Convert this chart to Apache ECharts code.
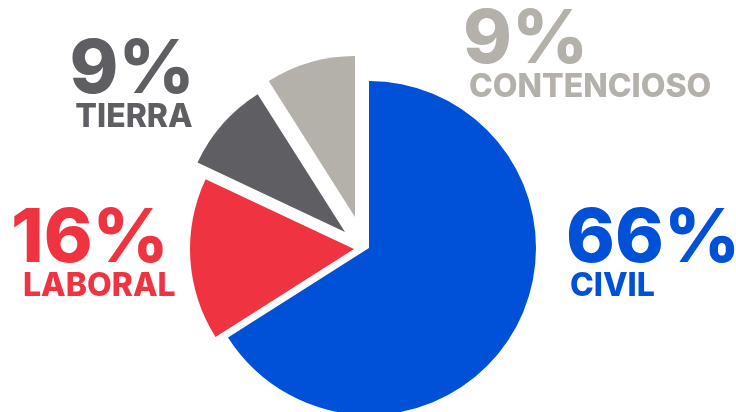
<!DOCTYPE html>
<html><head><meta charset="utf-8">
<script src="https://cdn.jsdelivr.net/npm/echarts@6/dist/echarts.min.js"></script>
<style>html,body{margin:0;padding:0;background:#fff}#c{width:736px;height:412px}</style>
</head><body><div id="c"></div>
<script>
// ---- data ----
const categories = ['CIVIL', 'LABORAL', 'TIERRA', 'CONTENCIOSO'];
const values = [66, 16, 9, 9];

// ---- styling / layout (not data) ----
const colors = ['#0050d8', '#ef3341', '#5f5e63', '#b4b0aa'];
const sliceCenters = [[369, 248], [354, 249], [345, 232], [355, 217]]; // exploded slice apexes
const sliceRadii = [167, 164, 163, 161];
const labelAnchors = [
  { x: 566, y: 210, align: 'left', indent: 4 },
  { x: 11, y: 210, align: 'left', indent: 12 },
  { x: 132, y: 41, align: 'center', indent: 4 },
  { x: 463, y: 11, align: 'left', indent: 6 }
];
const FONT = 'Inter';

const chart = echarts.init(document.getElementById('c'), null, { renderer: 'canvas' });

const series = categories.map((_, k) => ({
  type: 'pie',
  center: sliceCenters[k],
  radius: sliceRadii[k],
  startAngle: 90,
  clockwise: true,
  silent: true,
  animation: false,
  avoidLabelOverlap: false,
  labelLine: { show: false },
  emphasis: { disabled: true },
  data: categories.map((name, i) => ({
    name: name,
    value: values[i],
    itemStyle: { color: colors[i], opacity: i === k ? 1 : 0 },
    label: { show: i === k }
  })),
  label: {
    position: 'outside',
    formatter: '{p|{d}%}\n{n|{b}}',
    rich: {
      p: { fontFamily: FONT, fontWeight: 800, fontSize: 74, lineHeight: 60, color: colors[k], align: labelAnchors[k].align },
      n: { fontFamily: FONT, fontWeight: 800, fontSize: 32, lineHeight: 32, color: colors[k], align: labelAnchors[k].align,
           padding: [0, 0, 0, labelAnchors[k].indent] }
    }
  },
  labelLayout: function () {
    return { x: labelAnchors[k].x, y: labelAnchors[k].y, align: labelAnchors[k].align, verticalAlign: 'top' };
  }
}));

chart.setOption({ backgroundColor: '#ffffff', animation: false, series: series });
</script>
</body></html>
